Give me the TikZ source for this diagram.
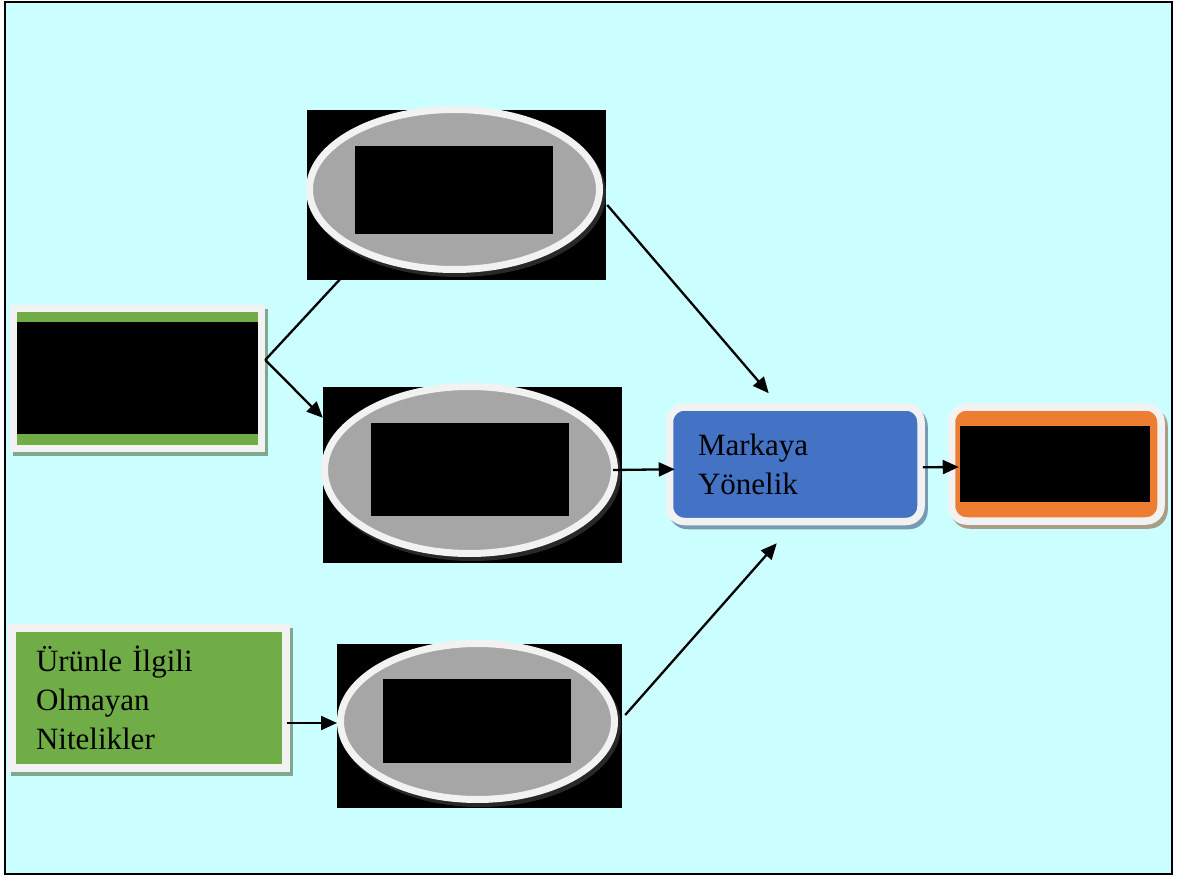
\documentclass[tikz,border=0pt]{standalone}
\usepackage{fontspec}
\setmainfont{Liberation Serif}
\usetikzlibrary{arrows.meta,shapes.geometric,calc}
\definecolor{bgcyan}{RGB}{204,255,255}
\definecolor{boxgreen}{RGB}{112,173,71}
\definecolor{boxblue}{RGB}{68,114,196}
\definecolor{boxorange}{RGB}{237,125,49}
\definecolor{ellgray}{RGB}{166,166,166}
\definecolor{rimwhite}{RGB}{242,242,242}
\definecolor{shgreen}{RGB}{128,168,145}
\definecolor{shblue}{RGB}{118,155,178}
\definecolor{shorange}{RGB}{168,158,136}
\definecolor{shdark}{RGB}{40,40,40}
\tikzset{
  shad/.style={preaction={fill=#1,draw=#1,transform canvas={xshift=3pt,yshift=-4pt}}},
  greenbox/.style={rectangle, fill=boxgreen, draw=rimwhite, line width=7.5pt, inner sep=0pt, shad=shgreen},
  bluebox/.style={rectangle, rounded corners=15pt, fill=boxblue, draw=rimwhite, line width=7.5pt, inner sep=0pt, shad=shblue},
  orangebox/.style={rectangle, rounded corners=15pt, fill=boxorange, draw=rimwhite, line width=7.5pt, inner sep=0pt, shad=shorange},
  ell/.style={ellipse, fill=ellgray, draw=rimwhite, line width=7pt, inner sep=0pt, shad=shdark},
  redact/.style={rectangle, fill=black, draw=none, inner sep=0pt},
  txt/.style={font=\fontsize{31}{39}\selectfont, text=black},
  arr/.style={draw=black, line width=2.3pt, -{Triangle[length=16pt,width=14pt]}}
}
\begin{document}
\begin{tikzpicture}[x=1pt,y=-1pt]
\useasboundingbox (0,0) rectangle (1181,877);
\fill[white] (0,0) rectangle (1181,877);
\draw[line width=2pt, fill=bgcyan] (5,2) rectangle (1172,874);

% left boxes
\node[greenbox, minimum width=248pt, minimum height=140pt] (A) at (137.5,378.5) {};
\node[redact, minimum width=241pt, minimum height=112pt] (Ain) at (137.5,378) {};
\node[greenbox, minimum width=274pt, minimum height=140pt, inner xsep=24pt, text width=226pt, align=left, txt] (B) at (149,698) {Ürünle İlgili\\Olmayan\\Nitelikler};

% ellipses
\node[redact, minimum width=299pt, minimum height=170pt] (e1bg) at (456.5,195) {};
\node[ell, minimum width=290pt, minimum height=160pt] (e1) at (454.5,189.5) {};
\node[redact, minimum width=198pt, minimum height=88pt] (e1in) at (454,190) {};

\node[redact, minimum width=299pt, minimum height=176pt] (e2bg) at (472.5,475) {};
\node[ell, minimum width=290pt, minimum height=167pt] (e2) at (469.5,470) {};
\node[redact, minimum width=198pt, minimum height=93pt] (e2in) at (470,469.5) {};

\node[redact, minimum width=285pt, minimum height=164pt] (e3bg) at (479.5,726) {};
\node[ell, minimum width=274pt, minimum height=156pt] (e3) at (477.5,721.5) {};
\node[redact, minimum width=188pt, minimum height=84pt] (e3in) at (477,721) {};

% right boxes
\node[bluebox, minimum width=251.5pt, minimum height=114.5pt, inner xsep=28.5pt, text width=194.5pt, align=left, txt] (mk) at (795.25,464.25) {Markaya\\Yönelik};
\node[orangebox, minimum width=209.5pt, minimum height=114pt] (or) at (1056.25,464) {};
\node[redact, minimum width=190pt, minimum height=76pt] (orin) at (1055,464) {};

% connectors
\draw[arr] ([yshift=18.5pt]A.east) -- ([xshift=49pt,yshift=18pt]e1bg.south west);
\draw[arr] ([yshift=18.5pt]A.east) -- ([yshift=-31pt]e2bg.north west);
\draw[arr] ([xshift=1pt,yshift=-10pt]e1bg.east) -- ([xshift=103pt,yshift=10pt]mk.north west);
\draw[arr] ([xshift=-5pt]e2.east) -- ([xshift=9pt,yshift=-5pt]mk.west);
\draw[arr] ([xshift=3pt,yshift=11pt]e3bg.east) -- ([xshift=111pt,yshift=-18pt]mk.south west);
\draw[arr] ([xshift=-2pt,yshift=-3pt]mk.east) -- ([xshift=11pt,yshift=-3pt]or.west);
\draw[arr] ([xshift=-3pt,yshift=-25pt]B.east) -- ([yshift=-1.5pt]e3.west);
\end{tikzpicture}
\end{document}
